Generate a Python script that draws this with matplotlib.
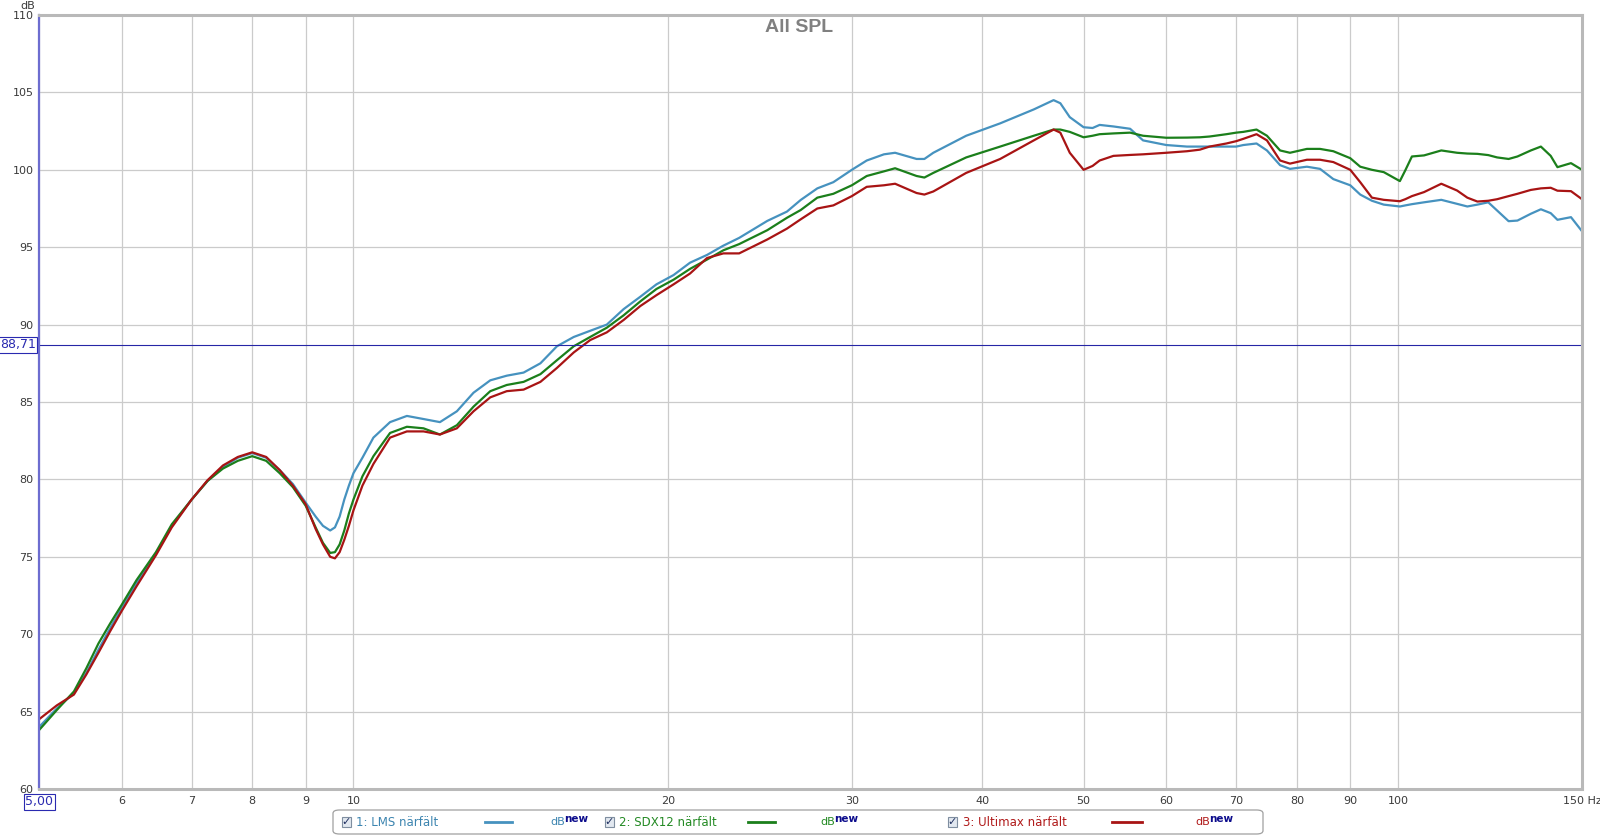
import matplotlib
matplotlib.use("Agg")
import matplotlib.pyplot as plt
from matplotlib.patches import FancyBboxPatch, Rectangle
from matplotlib.lines import Line2D
from matplotlib.ticker import FixedLocator, NullLocator, FixedFormatter

# Frequency points (Hz)
freq = [
    5.0, 5.2, 5.4, 5.55, 5.7, 5.85, 6.0, 6.2, 6.47, 6.7, 7.0, 7.25, 7.5, 7.75,
    8.0, 8.25, 8.5, 8.75, 9.0, 9.2, 9.35, 9.5, 9.6, 9.7, 9.8, 9.9,
    10.0, 10.2, 10.45, 10.84, 11.25, 11.67, 12.1, 12.56, 13.03, 13.52, 14.02,
    14.55, 15.1, 15.66, 16.25, 16.85, 17.48, 18.14, 18.82, 19.5, 20.25, 21.0,
    21.8, 22.6, 23.4, 24.9, 26.0, 26.8, 27.8, 28.8, 30.0, 31.0, 32.2, 33.0,
    34.6, 35.2, 35.9, 38.6, 41.6, 44.8, 46.8, 47.5, 48.5, 50.0, 51.0,
    51.8, 53.4, 55.4, 57.0, 60.0, 62.8, 64.6, 66.0, 68.5, 70.0, 71.1, 73.2,
    74.9, 77.1, 78.8, 81.8, 84.2, 86.7, 90.0, 92.0, 94.4, 96.9, 100.4, 101.6,
    103.1, 105.9, 110.0, 113.9, 116.5, 119.1, 122.0, 124.4, 127.6, 130.1,
    134.0, 137.0, 140.0, 142.1, 146.4, 150.0,
]

spl_lms = [
    64.0, 65.2, 66.2, 67.5, 69.0, 70.4, 71.7, 73.3, 75.2, 77.0, 78.7, 79.9, 80.8, 81.4,
    81.7, 81.4, 80.6, 79.7, 78.5, 77.6, 77.0, 76.7, 76.9, 77.6, 78.7, 79.6,
    80.4, 81.4, 82.7, 83.7, 84.1, 83.9, 83.7, 84.4, 85.6, 86.4, 86.7,
    86.9, 87.5, 88.6, 89.2, 89.6, 90.0, 91.0, 91.8, 92.6, 93.2, 94.0,
    94.5, 95.1, 95.6, 96.7, 97.3, 98.05, 98.8, 99.2, 100.0, 100.6, 101.0, 101.1,
    100.7, 100.7, 101.1, 102.2, 103.0, 103.9, 104.5, 104.3, 103.4, 102.75, 102.7,
    102.9, 102.8, 102.65, 101.9, 101.6, 101.5, 101.5, 101.5, 101.5, 101.5, 101.6, 101.7,
    101.25, 100.3, 100.06, 100.2, 100.06, 99.4, 99.0, 98.4, 98.0, 97.75, 97.63, 97.7,
    97.78, 97.9, 98.06, 97.8, 97.63, 97.75, 97.9, 97.37, 96.68, 96.72,
    97.16, 97.45, 97.2, 96.77, 96.94, 96.03,
]

spl_sdx12 = [
    63.8, 65.1, 66.3, 67.8, 69.4, 70.7, 71.9, 73.5, 75.3, 77.1, 78.7, 79.9, 80.7, 81.2,
    81.5, 81.2, 80.4, 79.5, 78.3, 76.9, 75.9, 75.25, 75.3, 75.8, 76.7, 77.8,
    78.7, 80.2, 81.5, 83.0, 83.4, 83.3, 82.9, 83.5, 84.7, 85.7, 86.1,
    86.3, 86.8, 87.7, 88.6, 89.2, 89.8, 90.6, 91.5, 92.3, 92.9, 93.6,
    94.2, 94.8, 95.2, 96.1, 96.9, 97.4, 98.2, 98.45, 99.0, 99.6, 99.9, 100.1,
    99.6, 99.5, 99.8, 100.8, 101.5, 102.2, 102.6, 102.6, 102.45, 102.1, 102.2,
    102.3, 102.35, 102.4, 102.2, 102.07, 102.08, 102.1, 102.15, 102.3, 102.4, 102.45, 102.6,
    102.2, 101.25, 101.1, 101.35, 101.35, 101.2, 100.75, 100.2, 100.0, 99.85, 99.27, 99.96,
    100.86, 100.93, 101.25, 101.1, 101.05, 101.03, 100.95, 100.8, 100.7, 100.86,
    101.25, 101.5, 100.9, 100.17, 100.43, 100.0,
]

spl_ultimax = [
    64.5, 65.4, 66.1, 67.4, 68.8, 70.2, 71.5, 73.1, 75.1, 76.9, 78.7, 79.95, 80.9, 81.45,
    81.75, 81.45, 80.6, 79.6, 78.4, 76.8, 75.8, 75.0, 74.9, 75.3, 76.1, 77.0,
    78.0, 79.6, 81.0, 82.7, 83.1, 83.1, 82.9, 83.3, 84.4, 85.3, 85.7,
    85.8, 86.3, 87.2, 88.2, 89.0, 89.5, 90.3, 91.2, 91.9, 92.6, 93.3,
    94.3, 94.6, 94.6, 95.5, 96.2, 96.8, 97.5, 97.7, 98.3, 98.9, 99.0, 99.1,
    98.5, 98.4, 98.6, 99.8, 100.7, 101.9, 102.6, 102.4, 101.1, 100.0, 100.25,
    100.6, 100.9, 100.96, 101.0, 101.1, 101.2, 101.3, 101.5, 101.7, 101.85, 102.0, 102.3,
    101.9, 100.6, 100.4, 100.65, 100.65, 100.5, 100.0, 99.2, 98.2, 98.06, 97.97, 98.1,
    98.3, 98.56, 99.1, 98.66, 98.2, 97.95, 98.0, 98.1, 98.3, 98.45,
    98.7, 98.8, 98.84, 98.65, 98.62, 98.1,
]

series_names = ["1: LMS närfält", "2: SDX12 närfält", "3: Ultimax närfält"]
series_colors = ["#4692bf", "#1b7f1b", "#a81414"]
text_colors = ["#3d85b0", "#248a24", "#b01a1a"]

x_ticks = [5, 6, 7, 8, 9, 10, 20, 30, 40, 50, 60, 70, 80, 90, 100, 150]
x_labels = ["", "6", "7", "8", "9", "10", "20", "30", "40", "50", "60", "70",
            "80", "90", "100", "150 Hz"]
y_ticks = [60, 65, 70, 75, 80, 85, 90, 95, 100, 105, 110]
cursor_db = 88.71

W, H = 1600, 836
fig = plt.figure(figsize=(16, 8.36), dpi=100)
ax = fig.add_axes([39 / W, 1 - 789 / H, 1543 / W, 774 / H])

for spl, col in zip([spl_lms, spl_sdx12, spl_ultimax], series_colors):
    ax.plot(freq, spl, color=col, linewidth=1.6, solid_joinstyle="round")

ax.set_xscale("log")
ax.set_xlim(5, 150)
ax.set_ylim(60, 110)
ax.xaxis.set_major_locator(FixedLocator(x_ticks))
ax.xaxis.set_major_formatter(FixedFormatter(x_labels))
ax.xaxis.set_minor_locator(NullLocator())
ax.set_yticks(y_ticks)
ax.tick_params(length=0, labelsize=8, labelcolor="#3a3a3a")
ax.tick_params(axis="y", pad=4)
ax.tick_params(axis="x", pad=5)
ax.grid(True, color="#cbcbcb", linewidth=0.9)
ax.set_axisbelow(True)

# frame: grey bevel, blue left edge
for side in ["top", "right", "bottom"]:
    ax.spines[side].set_color("#b9b9b9")
    ax.spines[side].set_linewidth(2.2)
ax.spines["left"].set_color("#6d6dd0")
ax.spines["left"].set_linewidth(1.6)

# cursor line and boxed readouts
ax.axhline(cursor_db, color="#2626a6", linewidth=0.8)
box_style = dict(boxstyle="square,pad=0.12", fc="white", ec="#2a2ab0", lw=0.8)
ax.annotate("88,71", xy=(0, cursor_db), xycoords=("axes fraction", "data"),
            xytext=(-2.5, 0), textcoords="offset points", ha="right", va="center",
            fontsize=9, color="#2a2ab0", bbox=box_style)
ax.annotate("5,00", xy=(5, 0), xycoords=("data", "axes fraction"),
            xytext=(0, -9), textcoords="offset points", ha="center", va="center",
            fontsize=9, color="#2a2ab0", bbox=box_style)

fig.text(28 / W, 1 - 6 / H, "dB", ha="center", va="center", fontsize=8, color="#3a3a3a")
fig.text(799 / W, 1 - 28 / H, "All SPL", ha="center", va="center", fontsize=14,
         fontweight="bold", color="#808080", family="Liberation Sans")

# legend bar at the bottom
leg_y = 1 - 822 / H
fig.patches.append(FancyBboxPatch((333 / W, 1 - 834 / H), 930 / W, 24 / H,
                                  boxstyle="round,pad=0,rounding_size=0.004",
                                  transform=fig.transFigure, fc="white",
                                  ec="#a0a0a0", lw=0.9))
entries = [(342, 356, 485, 512, 550), (605, 619, 748, 775, 820), (948, 963, 1112, 1142, 1195)]
for (cb, tx, l0, l1, dbx), name, lcol, tcol in zip(entries, series_names, series_colors, text_colors):
    fig.patches.append(Rectangle((cb / W, 1 - 827 / H), 9 / W, 10 / H,
                                 transform=fig.transFigure, fc="#e2e8f0",
                                 ec="#7f8ea0", lw=0.8))
    fig.text((cb + 4.5) / W, leg_y, "\u2713", ha="center", va="center",
             fontsize=8, color="#203060", fontweight="bold")
    fig.text(tx / W, leg_y, name, ha="left", va="center", fontsize=8.5, color=tcol)
    fig.lines.append(Line2D([l0 / W, l1 / W], [leg_y, leg_y], transform=fig.transFigure,
                            color=lcol, linewidth=2))
    fig.text(dbx / W, leg_y, "dB", ha="left", va="center", fontsize=8, color=tcol)
    fig.text((dbx + 14) / W, leg_y + 3 / H, "new", ha="left", va="center",
             fontsize=7.5, color="#0c0c8c", fontweight="bold")

fig.savefig("out.png", dpi=100, facecolor="white")
